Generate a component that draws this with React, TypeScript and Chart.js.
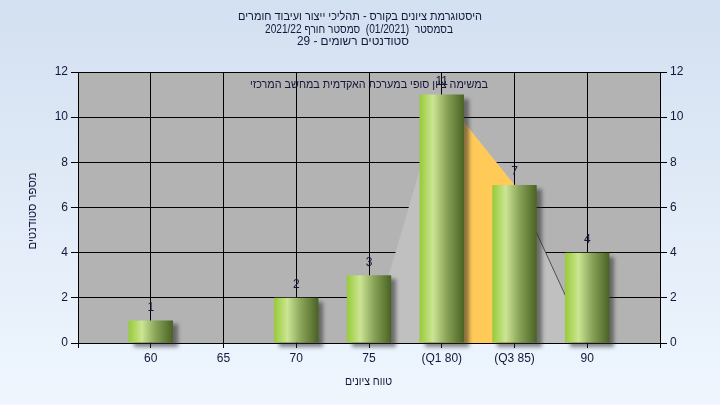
import React, { useEffect, useRef } from 'react';
import { Chart, registerables } from 'chart.js';

Chart.register(...registerables);

// ---- data ----
const categories = [60, 65, 70, 75, 80, 85, 90];
const counts = [1, 0, 2, 3, 11, 7, 4];
const tickLabels = ['60', '65', '70', '75', '(Q1 80)', '(Q3 85)', '90'];
const curveX = [75, 80, 85, 90];
const curveY = [0, 11, 7, 0];
const iqrX = [80, 85];
const iqrY = [11, 7];
const titleLines = [
  'היסטוגרמת ציונים בקורס - תהליכי ייצור ועיבוד חומרים',
  'בסמסטר  (01/2021)  סמסטר חורף 2021/22',
  'סטודנטים רשומים - 29',
];
const subtitle = 'במשימה ציון סופי במערכת האקדמית במחשב המרכזי';
const yTitle = 'מספר סטודנטים';
const xTitle = 'טווח ציונים';

const TEXT_COLOR = '#15163a';
const HEB_FONT = '"Liberation Sans Narrow", "Liberation Sans", Arial, sans-serif';
const NUM_FONT = '"Liberation Sans", Arial, sans-serif';

function drawFit(ctx: CanvasRenderingContext2D, text: string, cx: number, cy: number, w: number, font: string, rot = 0) {
  ctx.save();
  ctx.font = font;
  ctx.fillStyle = TEXT_COLOR;
  ctx.textAlign = 'center';
  ctx.textBaseline = 'middle';
  ctx.direction = 'rtl';
  const m = ctx.measureText(text).width;
  ctx.translate(cx, cy);
  if (rot) ctx.rotate(rot);
  ctx.scale(w / m, 1);
  ctx.fillText(text, 0, 0);
  ctx.restore();
}

const bgPlugin = {
  id: 'bgPlugin',
  beforeDraw(chart: any) {
    const { ctx, chartArea, width, height } = chart;
    ctx.save();
    const g = ctx.createLinearGradient(0, 0, 0, height);
    g.addColorStop(0, '#d3e0f1');
    g.addColorStop(1, '#eff6fe');
    ctx.fillStyle = g;
    ctx.fillRect(0, 0, width, height);
    ctx.fillStyle = '#b3b3b3';
    ctx.fillRect(chartArea.left, chartArea.top, chartArea.right - chartArea.left, chartArea.bottom - chartArea.top);
    ctx.restore();
  },
};

const shadowPlugin = {
  id: 'shadowPlugin',
  beforeDatasetDraw(chart: any, args: any) {
    if (args.index !== 0) return;
    const ctx = chart.ctx;
    ctx.save();
    ctx.shadowColor = 'rgba(40,40,40,0.55)';
    ctx.shadowOffsetX = 5;
    ctx.shadowOffsetY = 4;
    ctx.shadowBlur = 4;
  },
  afterDatasetDraw(chart: any, args: any) {
    if (args.index !== 0) return;
    chart.ctx.restore();
  },
};

const textPlugin = {
  id: 'textPlugin',
  afterDatasetsDraw(chart: any) {
    const ctx = chart.ctx as CanvasRenderingContext2D;
    const meta = chart.getDatasetMeta(0);
    ctx.save();
    ctx.font = '12px ' + NUM_FONT;
    ctx.fillStyle = TEXT_COLOR;
    ctx.textAlign = 'center';
    ctx.textBaseline = 'middle';
    meta.data.forEach((el: any, i: number) => {
      if (counts[i] > 0) ctx.fillText(String(counts[i]), el.x, el.y - 13);
    });
    ctx.restore();
    const f = '12px ' + HEB_FONT;
    drawFit(ctx, titleLines[0], 360, 17, 244, f);
    drawFit(ctx, titleLines[1], 359, 29.5, 188, f);
    drawFit(ctx, titleLines[2], 353, 41.5, 112, f);
    drawFit(ctx, subtitle, 369, 85, 238, f);
    drawFit(ctx, yTitle, 33, 211, 77, f, -Math.PI / 2);
    drawFit(ctx, xTitle, 368.5, 382, 47, f);
  },
};

export default function App() {
  const ref = useRef<HTMLCanvasElement>(null);
  useEffect(() => {
    document.body.style.margin = '0';
    const canvas = ref.current!;
    const chart = new Chart(canvas, {
      type: 'bar',
      data: {
        datasets: [
          {
            type: 'bar',
            data: categories.map((c, i) => ({ x: c, y: counts[i] })),
            backgroundColor: (c: any) => {
              const ch = c.chart;
              if (!ch.chartArea || c.type !== 'data' || !c.raw) return '#8bb040';
              const x = ch.scales.x.getPixelForValue(c.raw.x);
              const g = ch.ctx.createLinearGradient(x - 22, 0, x + 22, 0);
              g.addColorStop(0, '#98cb38');
              g.addColorStop(0.3, '#cce594');
              g.addColorStop(0.6, '#8ba55a');
              g.addColorStop(1, '#4a6324');
              return g;
            },
            borderWidth: 0,
            barPercentage: 0.61,
            categoryPercentage: 1,
            order: 0,
            clip: false,
          } as any,
          {
            type: 'line',
            data: iqrX.map((x, i) => ({ x, y: iqrY[i] })),
            fill: 'origin',
            backgroundColor: '#ffca58',
            borderWidth: 0,
            pointRadius: 0,
            tension: 0,
            order: 1,
          } as any,
          {
            type: 'line',
            data: curveX.map((x, i) => ({ x, y: curveY[i] })),
            fill: 'origin',
            backgroundColor: '#c0c0c0',
            borderWidth: 1,
            borderColor: 'rgba(0,0,0,0)',
            segment: {
              borderColor: (s: any) => (s.p0.parsed.x === 85 ? '#505050' : 'rgba(0,0,0,0)'),
            },
            pointRadius: 0,
            tension: 0,
            order: 2,
          } as any,
        ],
      },
      options: {
        responsive: false,
        devicePixelRatio: 1,
        animation: false,
        layout: { padding: { top: 72, left: 0, right: 0, bottom: 0 } },
        plugins: { legend: { display: false }, tooltip: { enabled: false }, title: { display: false } },
        scales: {
          x: {
            type: 'linear',
            min: 55,
            max: 95,
            offset: false,
            ticks: {
              stepSize: 5,
              autoSkip: false,
              maxRotation: 0,
              padding: 3,
              color: TEXT_COLOR,
              font: { family: NUM_FONT, size: 12 },
              callback: (v: any) => {
                const i = categories.indexOf(Number(v));
                return i >= 0 ? tickLabels[i] : '';
              },
            },
            grid: { color: '#000', lineWidth: 1, tickLength: 5, offset: false },
            border: { color: '#000' },
            afterFit: (s: any) => { s.height = 62; },
          },
          y: {
            type: 'linear',
            position: 'left',
            min: 0,
            max: 12,
            ticks: { stepSize: 2, padding: 3, color: TEXT_COLOR, font: { family: NUM_FONT, size: 12 } },
            grid: { color: '#000', lineWidth: 1, tickLength: 7 },
            border: { color: '#000' },
            afterFit: (s: any) => { s.width = 78; },
          },
          y2: {
            type: 'linear',
            position: 'right',
            min: 0,
            max: 12,
            ticks: { stepSize: 2, padding: 3, color: TEXT_COLOR, font: { family: NUM_FONT, size: 12 } },
            grid: { drawOnChartArea: false, color: '#000', tickLength: 7 },
            border: { color: '#000' },
            afterFit: (s: any) => { s.width = 60; },
          },
        },
      } as any,
      plugins: [bgPlugin, shadowPlugin, textPlugin],
    });
    return () => chart.destroy();
  }, []);
  return (
    <div style={{ position: 'fixed', left: 0, top: 0, width: 720, height: 405 }}>
      <canvas ref={ref} width={720} height={405} style={{ display: 'block', width: 720, height: 405 }} />
    </div>
  );
}
